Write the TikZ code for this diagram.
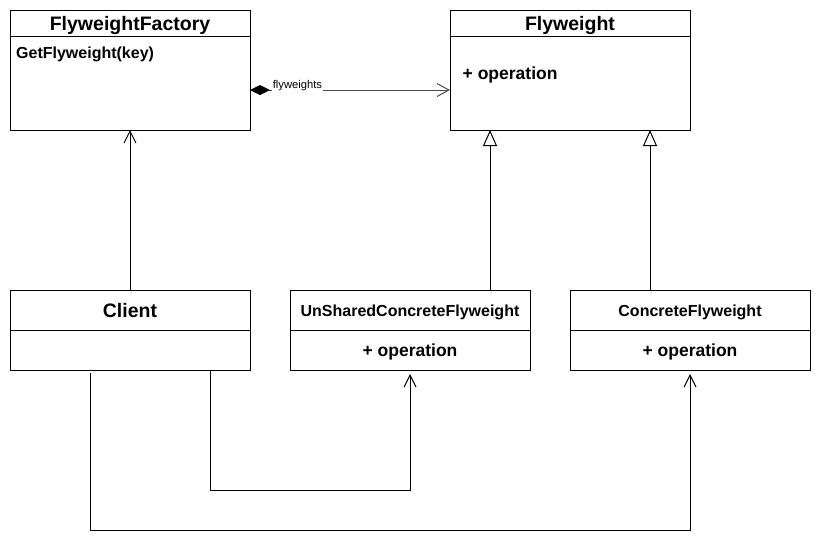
\documentclass[tikz,border=0pt]{standalone}
\usepackage{fontspec}
\setmainfont{Liberation Sans}
\usetikzlibrary{arrows.meta,calc}
\begin{document}
\begin{tikzpicture}[x=1pt,y=-1pt,
  box/.style={draw=black,line width=1pt,rectangle,minimum width=240pt,inner sep=0pt,outer sep=0pt},
  hdr/.style={font=\bfseries\fontsize{19.5}{22}\selectfont,anchor=base,inner sep=0pt},
  sub/.style={font=\bfseries\fontsize{16}{19}\selectfont,anchor=base,inner sep=0pt},
  op/.style={font=\bfseries\fontsize{17.5}{20}\selectfont,anchor=base,inner sep=0pt},
  lbl/.style={font=\fontsize{11.2}{13}\selectfont,anchor=base west,fill=white,inner sep=0.6pt},
  usearrow/.style={draw=black,line width=1pt,-{Straight Barb[length=12pt,width=12pt,line width=1pt]}},
  gen/.style={draw=black,line width=1pt,-{Triangle[open,length=16pt,width=14pt,line width=1pt,fill=white]}},
  assoc/.style={draw=black!70,line width=1pt,{Diamond[length=20pt,width=10pt,fill=black,color=black]}-{Straight Barb[length=12pt,width=13pt,line width=1pt]}}
]
\useasboundingbox[fill=white] (0,0) rectangle (821,555);

% boxes
\node[box,minimum height=120pt] (factory) at (130,70) {};
\node[box,minimum height=120pt] (fly) at (570,70) {};
\node[box,minimum height=80pt] (client) at (130,330) {};
\node[box,minimum height=80pt] (unshared) at (410,330) {};
\node[box,minimum height=80pt] (concrete) at (690,330) {};

% dividers
\draw[line width=1pt] (factory.north west) ++(0,26) -- ++(240,0);
\draw[line width=1pt] (fly.north west) ++(0,26) -- ++(240,0);
\draw[line width=1pt] (client.west) -- (client.east);
\draw[line width=1pt] (unshared.west) -- (unshared.east);
\draw[line width=1pt] (concrete.west) -- (concrete.east);

% texts
\node[hdr] (factoryT) at (130,30.6) {FlyweightFactory};
\node[sub,anchor=base west] (getT) at (16,58.5) {GetFlyweight(key)};
\node[hdr] (flyT) at (570,30.6) {Flyweight};
\node[op,anchor=base west] (flyOp) at (462.5,79) {+ operation};
\node[hdr] (clientT) at (130,317.3) {Client};
\node[sub] (unT) at (410,316.7) {UnSharedConcreteFlyweight};
\node[op] (unOp) at (410,356) {+ operation};
\node[sub] (conT) at (690,316.7) {ConcreteFlyweight};
\node[op] (conOp) at (690,356) {+ operation};

% connectors
\draw[assoc] ($(factory.east)+(0,20)$) -- ($(fly.west)+(0,20)$);
\node[lbl] (flyLbl) at (272,88.3) {flyweights};

\draw[usearrow] (client.north) -- (factory.south);
\draw[gen] ($(unshared.north)+(80,0)$) -- ($(fly.south)+(-80,0)$);
\draw[gen] ($(concrete.north)+(-40,0)$) -- ($(fly.south)+(80,0)$);

\coordinate (cA) at ($(client.south)+(80,0)$);
\coordinate (cB) at ($(client.south)+(-40,3)$);
\coordinate (uB) at ($(unshared.south)+(0,4)$);
\coordinate (kB) at ($(concrete.south)+(0,4)$);
\draw[usearrow] (cA) -- ++(0,120) -| (uB);
\draw[usearrow] (cB) -- ++(0,157) -| (kB);
\end{tikzpicture}
\end{document}
